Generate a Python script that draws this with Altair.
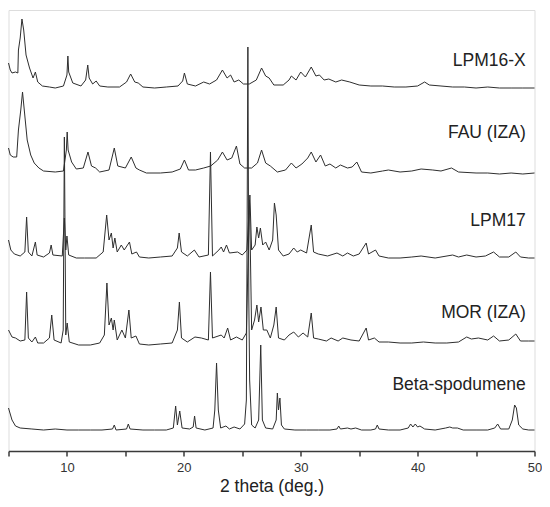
import altair as alt
import pandas as pd

# ---- data (2 theta in deg., intensity in stacked a.u.) ----
lpm16x_2theta = [5.0, 5.15, 5.3, 5.6, 5.8, 5.85, 6.0, 6.15, 6.3, 6.5, 6.8, 7.1, 7.3, 7.5, 7.9, 8.5, 9.0, 9.7,
                 10.0, 10.08, 10.15, 10.5, 11.2, 11.6, 11.78, 11.9, 12.2, 12.5, 12.8, 13.5, 14.5, 15.1, 15.45,
                 15.8, 16.1, 16.5, 17.5, 18.5, 19.5, 19.9, 20.05, 20.3, 21.0, 21.7, 22.2, 22.8, 23.3, 23.7, 24.0,
                 24.3, 24.7, 25.1, 25.6, 26.2, 26.65, 27.0, 27.3, 27.7, 28.5, 29.0, 29.2, 29.6, 30.0, 30.4, 30.9,
                 31.3, 31.6, 32.0, 32.4, 33.0, 33.5, 34.2, 35.0, 36.0, 37.0, 38.0, 39.0, 40.0, 40.6, 41.0, 42.0,
                 43.0, 44.0, 45.0, 46.0, 47.0, 48.0, 49.0, 50.0]
lpm16x_intensity = [388, 381, 378, 379, 378, 401, 413, 432, 421, 396, 383, 373, 379, 369, 365, 364, 363, 365,
                    376, 395, 379, 368, 365, 371, 386, 373, 367, 370, 365, 364, 364, 369, 377,
                    369, 368, 364, 363, 364, 365, 370, 378, 367, 365, 369, 367, 371, 381, 373, 376,
                    369, 371, 367, 367, 371, 383, 375, 373, 366, 366, 371, 375, 371, 379, 374, 384,
                    375, 376, 371, 372, 369, 371, 369, 366, 365, 365, 364, 364, 365, 369, 366, 365,
                    364, 364, 363, 364, 363, 363, 363, 363]

fau_2theta = [5.0, 5.15, 5.4, 5.7, 5.85, 6.05, 6.2, 6.35, 6.6, 6.9, 7.2, 7.6, 8.0, 9.0, 9.7, 9.95, 10.02, 10.1,
              10.4, 10.8, 11.4, 11.8, 12.1, 12.45, 12.8, 13.6, 14.05, 14.35, 15.0, 15.5, 15.9, 16.2, 16.8, 18.0,
              19.0, 19.7, 20.05, 20.4, 21.0, 21.7, 22.3, 22.9, 23.3, 23.7, 24.1, 24.5, 24.8, 25.2, 25.8, 26.3,
              26.65, 27.0, 27.4, 28.0, 28.7, 29.2, 29.6, 30.1, 30.6, 30.9, 31.3, 31.7, 32.1, 32.5, 33.0, 33.4,
              34.0, 34.4, 34.8, 35.2, 36.0, 37.0, 37.5, 38.5, 39.5, 40.3, 41.3, 42.0, 42.9, 43.5, 45.0, 46.0,
              47.0, 48.0, 49.0, 50.0]
fau_intensity = [303, 296, 294, 294, 321, 341, 359, 341, 311, 296, 288, 283, 280, 279, 280, 301, 319, 301,
                 289, 282, 283, 299, 285, 283, 279, 281, 303, 285, 283, 294, 283, 281, 278, 278,
                 279, 282, 291, 281, 281, 283, 285, 291, 299, 291, 293, 305, 287, 283, 283, 288,
                 301, 288, 285, 279, 281, 288, 283, 287, 293, 299, 289, 296, 285, 287, 283, 286,
                 283, 284, 289, 279, 278, 280, 281, 279, 280, 282, 281, 280, 283, 279, 278, 278,
                 277, 278, 277, 278]

lpm17_2theta = [5.0, 5.2, 5.5, 6.0, 6.4, 6.55, 6.7, 7.0, 7.3, 7.45, 8.0, 8.5, 8.65, 8.8, 9.6, 9.78, 9.9, 10.0,
                10.15, 10.8, 11.5, 12.5, 13.1, 13.4, 13.6, 13.8, 13.95, 14.1, 14.3, 14.65, 14.9, 15.35, 15.55,
                15.95, 16.2, 17.0, 18.0, 19.0, 19.45, 19.6, 19.8, 20.3, 20.9, 21.3, 22.1, 22.28, 22.45, 23.0,
                23.2, 23.4, 23.65, 23.9, 24.6, 25.0, 25.4, 25.65, 25.8, 26.1, 26.25, 26.4, 26.55, 26.75, 27.0,
                27.3, 27.6, 27.75, 27.9, 28.1, 28.5, 29.0, 29.4, 29.7, 30.0, 30.5, 30.9, 31.1, 31.5, 32.3, 33.1,
                33.6, 34.0, 34.5, 35.0, 35.6, 35.8, 36.4, 36.7, 37.5, 38.5, 39.5, 40.3, 41.5, 43.0, 43.5, 44.2,
                45.0, 45.8, 46.5, 47.0, 47.8, 48.4, 48.8, 49.5, 50.0]
lpm17_intensity = [211, 201, 197, 195, 199, 234, 199, 195, 209, 196, 194, 198, 206, 196, 195, 233, 201, 215,
                   196, 193, 193, 193, 199, 236, 211, 218, 203, 213, 199, 206, 201, 209, 197,
                   199, 194, 193, 194, 195, 203, 218, 199, 195, 201, 194, 196, 299, 195, 201,
                   204, 199, 206, 198, 199, 196, 201, 256, 201, 206, 224, 213, 223, 206, 209,
                   201, 211, 248, 236, 201, 195, 197, 203, 199, 201, 198, 226, 199, 197, 195, 198,
                   195, 198, 195, 197, 208, 197, 201, 195, 193, 193, 194, 195, 193, 196, 194, 196,
                   194, 195, 199, 194, 194, 199, 194, 193, 193]

mor_2theta = [5.0, 5.3, 5.6, 6.0, 6.4, 6.55, 6.7, 7.0, 7.3, 7.5, 8.0, 8.5, 8.7, 8.9, 9.5, 9.68, 9.78, 9.9,
              10.02, 10.2, 11.0, 12.0, 12.8, 13.2, 13.42, 13.6, 13.8, 13.95, 14.05, 14.3, 14.7, 15.0, 15.3,
              15.5, 15.9, 16.2, 17.0, 18.0, 19.0, 19.45, 19.62, 19.8, 20.3, 20.95, 21.5, 22.1, 22.28, 22.45,
              23.2, 23.45, 23.75, 24.0, 24.5, 25.0, 25.35, 25.62, 25.8, 26.05, 26.25, 26.4, 26.6, 26.8, 27.1,
              27.4, 27.7, 27.9, 28.1, 28.6, 29.0, 29.4, 29.8, 30.2, 30.6, 30.9, 31.1, 31.5, 32.2, 32.6, 33.2,
              33.6, 34.3, 35.0, 35.6, 35.8, 36.3, 36.7, 37.5, 38.5, 39.5, 40.5, 41.5, 42.5, 43.5, 44.2, 44.6,
              45.2, 46.0, 46.5, 47.0, 47.8, 48.4, 48.8, 49.5, 50.0]
mor_intensity = [121, 114, 113, 110, 111, 159, 113, 109, 114, 108, 108, 113, 136, 111, 108, 121, 314, 116,
                 128, 109, 106, 106, 108, 116, 168, 126, 133, 121, 131, 111, 121, 113, 141,
                 113, 115, 107, 106, 107, 108, 121, 149, 113, 109, 114, 113, 111, 179, 113,
                 116, 113, 123, 111, 114, 111, 118, 251, 121, 131, 146, 129, 144, 121, 121,
                 113, 126, 144, 113, 111, 116, 119, 114, 118, 114, 138, 113, 112, 110, 113, 110,
                 113, 111, 110, 123, 111, 113, 109, 109, 108, 108, 109, 108, 108, 109, 114, 112,
                 113, 111, 115, 110, 111, 117, 110, 110, 110]

beta_2theta = [5.0, 5.1, 5.3, 5.6, 6.0, 7.0, 8.0, 9.0, 10.0, 11.0, 12.0, 13.0, 13.9, 14.05, 14.2, 15.1, 15.25,
               15.4, 16.5, 17.5, 18.5, 19.1, 19.3, 19.45, 19.65, 19.85, 20.5, 20.8, 20.92, 21.05, 21.8, 22.5,
               22.65, 22.8, 22.95, 23.15, 23.6, 23.9, 24.3, 24.8, 25.2, 25.35, 25.48, 25.56, 25.63, 25.8,
               26.1, 26.4, 26.58, 26.72, 27.0, 27.6, 27.9, 28.0, 28.1, 28.22, 28.35, 28.6, 29.5, 30.5, 31.5,
               32.5, 33.1, 33.25, 33.4, 34.0, 34.3, 34.7, 35.2, 36.0, 36.4, 36.55, 36.7, 37.5, 38.5, 39.2,
               39.4, 39.6, 39.8, 40.0, 40.2, 40.6, 41.5, 42.4, 42.75, 43.0, 43.4, 43.9, 45.0, 46.0, 46.6,
               46.85, 47.1, 47.8, 48.1, 48.3, 48.45, 48.65, 49.0, 49.5, 50.0]
beta_intensity = [43, 39, 31, 25, 23, 22, 21, 22, 21, 21, 21, 21, 22, 26, 21, 22, 27,
                  22, 21, 21, 21, 23, 45, 26, 40, 23, 22, 24, 35, 23, 21, 23,
                  41, 88, 41, 23, 25, 22, 24, 22, 27, 51, 404, 151, 71, 26,
                  23, 31, 106, 31, 23, 22, 31, 58, 41, 53, 26, 22, 21, 21, 21,
                  21, 22, 25, 22, 23, 22, 23, 21, 21, 22, 26, 22, 21, 21, 23,
                  27, 24, 27, 24, 25, 22, 21, 23, 24, 23, 23, 21, 21, 21, 23,
                  27, 22, 22, 31, 46, 43, 26, 22, 21, 21]

sample_names = ["LPM16-X", "FAU (IZA)", "LPM17", "MOR (IZA)", "Beta-spodumene"]
label_2theta = [49.25, 49.25, 49.25, 49.25, 49.25]
label_intensity = [390, 318, 230, 138, 66]

x_ticks = [5, 10, 15, 20, 25, 30, 35, 40, 45, 50]

# ---- build table ----
series = [
    (sample_names[0], lpm16x_2theta, lpm16x_intensity),
    (sample_names[1], fau_2theta, fau_intensity),
    (sample_names[2], lpm17_2theta, lpm17_intensity),
    (sample_names[3], mor_2theta, mor_intensity),
    (sample_names[4], beta_2theta, beta_intensity),
]
rows = []
for name, xs, ys in series:
    for xv, yv in zip(xs, ys):
        rows.append({"sample": name, "two_theta": xv, "intensity": yv})
df = pd.DataFrame(rows)
labels = pd.DataFrame({"sample": sample_names, "two_theta": label_2theta, "intensity": label_intensity})

x_scale = alt.Scale(domain=[5, 50], nice=False, zero=False)
y_scale = alt.Scale(domain=[0, 441], nice=False, zero=False)

lines = alt.Chart(df).mark_line(color="#2e2e2e", strokeWidth=1, interpolate="linear").encode(
    x=alt.X("two_theta:Q", scale=x_scale,
            axis=alt.Axis(title="2 theta (deg.)", values=x_ticks,
                          labelExpr="datum.value % 10 === 0 && datum.value > 5 ? datum.label : ''",
                          grid=False, tickSize=5, tickColor="#3a3a3a", tickWidth=1.5,
                          domainColor="#3a3a3a", domainWidth=1.5,
                          labelFont="Liberation Sans", labelFontSize=13, labelColor="#333333",
                          labelPadding=5, labelFlush=False,
                          titleFont="Liberation Sans", titleFontSize=17.5, titleFontWeight="normal",
                          titleColor="#222222", titlePadding=3)),
    y=alt.Y("intensity:Q", scale=y_scale, axis=None),
    detail="sample:N",
    order="two_theta:Q",
)

texts = alt.Chart(labels).mark_text(align="right", baseline="middle", font="Liberation Sans",
                                    fontSize=17.5, color="#222222").encode(
    x=alt.X("two_theta:Q", scale=x_scale),
    y=alt.Y("intensity:Q", scale=y_scale),
    text="sample:N",
)

chart = (lines + texts).properties(
    width=526, height=441,
    autosize=alt.AutoSizeParams(type="none"),
    padding={"left": 0.5, "top": 2, "right": 7.5, "bottom": 45},
).configure_view(stroke="#3a3a3a", strokeWidth=1.5).configure(background="white")

chart.save("out.html", embed_options={"renderer": "svg", "actions": False})
